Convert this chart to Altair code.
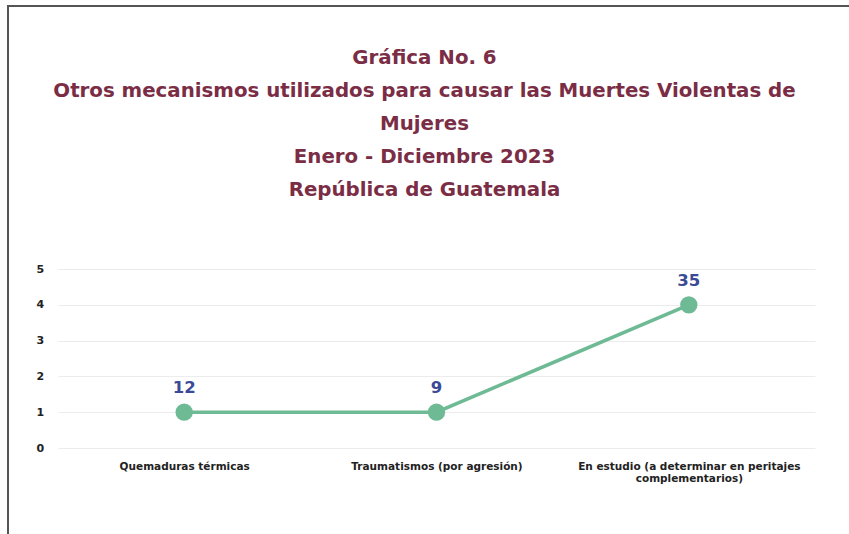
import altair as alt
import pandas as pd

categories = [
    "Quemaduras térmicas",
    "Traumatismos (por agresión)",
    "En estudio (a determinar en peritajes complementarios)",
]
values = [1, 1, 4]
labels = ["12", "9", "35"]
y_ticks = [0, 1, 2, 3, 4, 5]
title_lines = [
    "Gráfica No. 6",
    "Otros mecanismos utilizados para causar las Muertes Violentas de",
    "Mujeres",
    "Enero - Diciembre 2023",
    "República de Guatemala",
]

df = pd.DataFrame({"cat": categories, "val": values, "lab": labels})

FONT = "DejaVu Sans"
AXFONT = "DejaVu Sans"

x = alt.X(
    "cat:N",
    sort=categories,
    scale=alt.Scale(type="point", padding=0.5),
    axis=alt.Axis(
        title=None,
        labelAngle=0,
        domain=False,
        ticks=False,
        grid=False,
        labelFont=AXFONT,
        labelFontWeight="bold",
        labelFontSize=10.5,
        labelColor="#222222",
        labelPadding=13,
        labelLineHeight=12,
        labelLimit=300,
        labelExpr="datum.label == 'En estudio (a determinar en peritajes complementarios)' ? ['En estudio (a determinar en peritajes', 'complementarios)'] : datum.label",
    ),
)
y = alt.Y(
    "val:Q",
    scale=alt.Scale(domain=[0, 5]),
    axis=alt.Axis(
        title=None,
        values=y_ticks,
        domain=False,
        ticks=False,
        gridColor="#ececec",
        gridWidth=1,
        labelFont=AXFONT,
        labelFontWeight="bold",
        labelFontSize=11,
        labelColor="#222222",
        labelAlign="left",
        labelPadding=22,
    ),
)

base = alt.Chart(df)
line = base.mark_line(color="#6dba94", strokeWidth=3.5).encode(x=x, y=y)
points = base.mark_point(filled=True, size=300, color="#6dba94", opacity=1).encode(x=x, y=y)
text = base.mark_text(
    font=FONT, fontWeight="bold", fontSize=16.5, color="#3b4a96", dy=-24
).encode(x=x, y=y, text="lab:N")

border_top = alt.Chart(df).mark_rule(color="#555555", strokeWidth=2).encode(
    x=alt.value(-51), x2=alt.value(800), y=alt.value(-263)
)
border_left = alt.Chart(df).mark_rule(color="#555555", strokeWidth=2).encode(
    x=alt.value(-50), y=alt.value(-264), y2=alt.value(280)
)

chart = (
    alt.layer(line, points, text, border_top, border_left)
    .properties(
        width=757,
        height=179,
        title=alt.TitleParams(
            text=title_lines,
            font=FONT,
            fontSize=19.8,
            fontWeight="bold",
            color="#7a2d45",
            lineHeight=33,
            anchor="middle",
            frame="group",
            dx=-12,
            offset=-196,
        ),
        padding={"left": 58, "top": 269, "right": 34, "bottom": 86},
        autosize=alt.AutoSizeParams(type="none"),
    )
    .configure(background="white", view=alt.ViewConfig(strokeWidth=0, strokeOpacity=0))
)

chart.save("out.html", embed_options={"renderer": "svg", "actions": False})
